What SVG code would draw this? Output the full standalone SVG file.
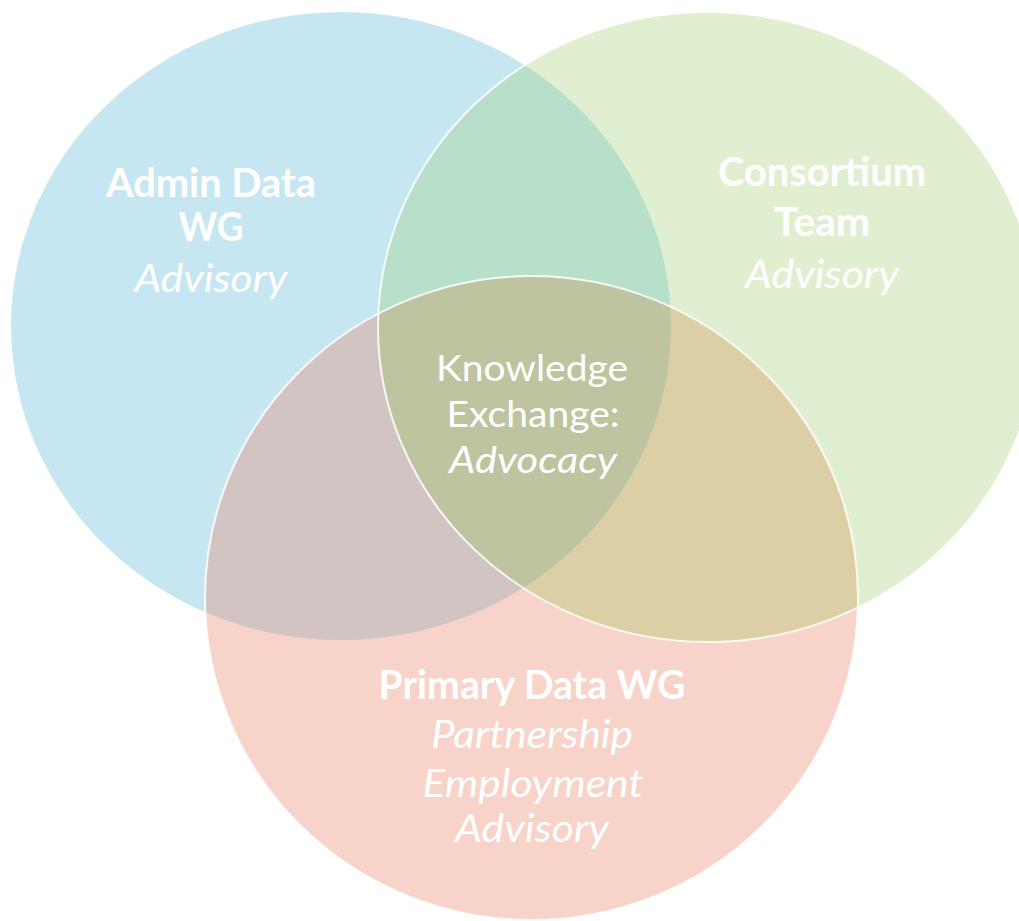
<svg xmlns="http://www.w3.org/2000/svg" width="1019" height="921" viewBox="0 0 1019 921">
  <style>
    .lbl { fill: #FFFFFF; text-anchor: middle; font-family: Lato, "Open Sans", "Liberation Sans", sans-serif; }
    .b { font-weight: bold; font-size: 40px; }
    .i { font-style: italic; font-size: 38px; }
    .r { font-size: 36px; }
    .ri { font-style: italic; font-size: 36px; }
    .edge { fill: none; stroke: #FFFFFF; stroke-width: 2; stroke-opacity: 0.85; }
  </style>
  <defs>
    <ellipse id="eB" cx="341" cy="326" rx="330" ry="314"/>
    <ellipse id="eG" cx="708" cy="327" rx="330" ry="315"/>
    <ellipse id="eP" cx="531.5" cy="598" rx="326.5" ry="322"/>
    <clipPath id="cB"><use href="#eB"/></clipPath>
    <clipPath id="cG"><use href="#eG"/></clipPath>
    <clipPath id="cP"><use href="#eP"/></clipPath>
  </defs>
  <rect x="0" y="0" width="1019" height="921" fill="#FFFFFF"/>

  <g id="circle-admin">
    <use href="#eB" fill="#C6E7F2"/>
  </g>
  <g id="circle-consortium">
    <use href="#eG" fill="#E1EFD1"/>
  </g>
  <g id="circle-primary">
    <use href="#eP" fill="#F8D3C9"/>
  </g>
  <g id="overlaps">
    <g clip-path="url(#cB)"><use href="#eG" fill="#B8DFCA"/></g>
    <g clip-path="url(#cB)"><use href="#eP" fill="#D2C4C3"/></g>
    <g clip-path="url(#cG)"><use href="#eP" fill="#DDCFA5"/></g>
    <g clip-path="url(#cB)"><g clip-path="url(#cG)"><use href="#eP" fill="#BEC4A0"/></g></g>
  </g>
  <g id="connectors">
    <use href="#eG" class="edge"/>
    <use href="#eP" class="edge"/>
  </g>

  <g id="label-admin">
    <text class="lbl b" x="211" y="197" textLength="210" lengthAdjust="spacingAndGlyphs">Admin Data</text>
    <text class="lbl b" x="211" y="241" textLength="65" lengthAdjust="spacingAndGlyphs">WG</text>
    <text class="lbl i" x="211" y="292" textLength="153" lengthAdjust="spacingAndGlyphs">Advisory</text>
  </g>
  <g id="label-consortium">
    <text class="lbl b" x="822" y="186" textLength="208" lengthAdjust="spacingAndGlyphs">Consortium</text>
    <text class="lbl b" x="822" y="236" textLength="96" lengthAdjust="spacingAndGlyphs">Team</text>
    <text class="lbl i" x="822" y="288" textLength="154" lengthAdjust="spacingAndGlyphs">Advisory</text>
  </g>
  <g id="label-knowledge">
    <text class="lbl r" x="532" y="381" textLength="192" lengthAdjust="spacingAndGlyphs">Knowledge</text>
    <text class="lbl r" x="533" y="427" textLength="173" lengthAdjust="spacingAndGlyphs">Exchange:</text>
    <text class="lbl ri" x="533" y="473" textLength="168" lengthAdjust="spacingAndGlyphs">Advocacy</text>
  </g>
  <g id="label-primary">
    <text class="lbl b" x="532" y="699" textLength="307" lengthAdjust="spacingAndGlyphs">Primary Data WG</text>
    <text class="lbl i" x="532" y="748" textLength="202" lengthAdjust="spacingAndGlyphs">Partnership</text>
    <text class="lbl i" x="533" y="797" textLength="221" lengthAdjust="spacingAndGlyphs">Employment</text>
    <text class="lbl i" x="532" y="842" textLength="154" lengthAdjust="spacingAndGlyphs">Advisory</text>
  </g>
</svg>
